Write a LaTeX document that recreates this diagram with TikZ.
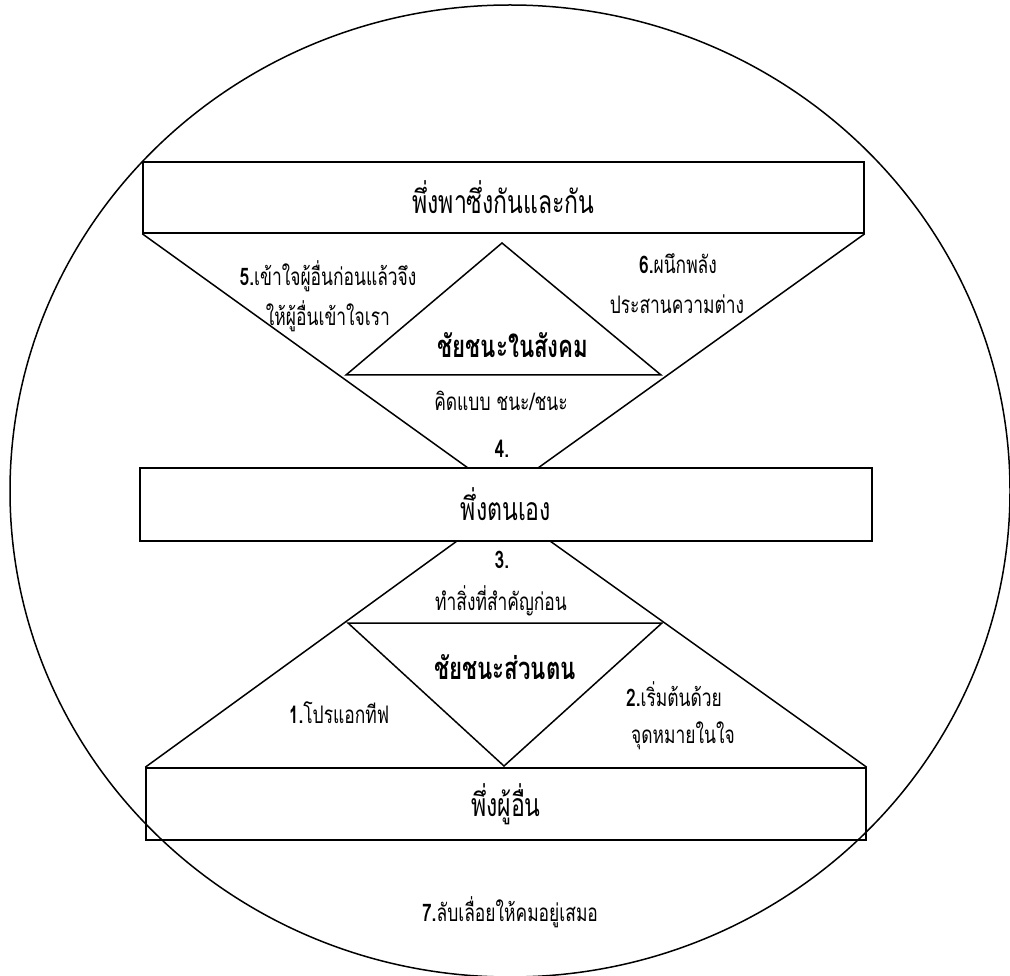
\documentclass[tikz,border=0pt]{standalone}
\usepackage{fontspec}
\setmainfont{Loma}[Script=Thai, FakeStretch=0.72]
\begin{document}
\begin{tikzpicture}[x=1pt,y=-1pt, line width=1.5pt, line join=miter,
  box/.style={draw, rectangle, inner sep=0pt, font=\fontsize{32}{35}\selectfont},
  lbl/.style={inner sep=0pt, font=\fontsize{24.2}{26}\selectfont},
  big/.style={inner sep=0pt, font=\fontsize{31}{33}\selectfont\bfseries}]
\useasboundingbox (0,0) rectangle (1010,976);
\draw (510,491) ellipse [x radius=500, y radius=486];
% boxes
\node[box, minimum width=721pt, minimum height=71pt] (top) at (503.5,197.5) {พึ่งพาซึ่งกันและกัน};
\node[box, minimum width=732pt, minimum height=73pt] (mid) at (506,504.5) {พึ่งตนเอง};
\node[box, minimum width=720pt, minimum height=72pt] (bot) at (506,804) {พึ่งผู้อื่น};
% connectors
\coordinate (ua) at (468,468);
\coordinate (ub) at (538,468);
\coordinate (la) at (457,541);
\coordinate (lb) at (550,541);
\draw (top.south west) -- (ua);
\draw (top.south east) -- (ub);
\draw (la) -- (bot.north west);
\draw (lb) -- (bot.north east);
% triangles
\coordinate (t1) at (502,243);
\coordinate (t2) at (346,375);
\coordinate (t3) at (661,375);
\draw (t1) -- (t2) -- (t3) -- cycle;
\coordinate (s1) at (348,623);
\coordinate (s2) at (662,623);
\coordinate (s3) at (504,766);
\draw (s1) -- (s2) -- (s3) -- cycle;
% labels
\node[big] (social) at (513,345) {ชัยชนะในสังคม};
\node[big] (personal) at (505,667) {ชัยชนะส่วนตน};
\node[lbl] (l5a) at (328,276) {\textbf{5.}เข้าใจผู้อื่นก่อนแล้วจึง};
\node[lbl] (l5b) at (328,316) {ให้ผู้อื่นเข้าใจเรา};
\node[lbl] (l6a) at (678,264) {\textbf{6.}ผนึกพลัง};
\node[lbl] (l6b) at (677,304) {ประสานความต่าง};
\node[lbl] (l4a) at (501,401) {คิดแบบ ชนะ/ชนะ};
\node[lbl] (l4) at (502,449) {\textbf{4.}};
\node[lbl] (l3) at (502,560) {\textbf{3.}};
\node[lbl] (l3a) at (501,601) {ทำสิ่งที่สำคัญก่อน};
\node[lbl] (l1) at (339,713) {\textbf{1.}โปรแอกทีฟ};
\node[lbl] (l2a) at (674,694) {\textbf{2.}เริ่มต้นด้วย};
\node[lbl] (l2b) at (683,736) {จุดหมายในใจ};
\node[lbl] (l7) at (510,912) {\textbf{7.}ลับเลื่อยให้คมอยู่เสมอ};
\end{tikzpicture}
\end{document}
